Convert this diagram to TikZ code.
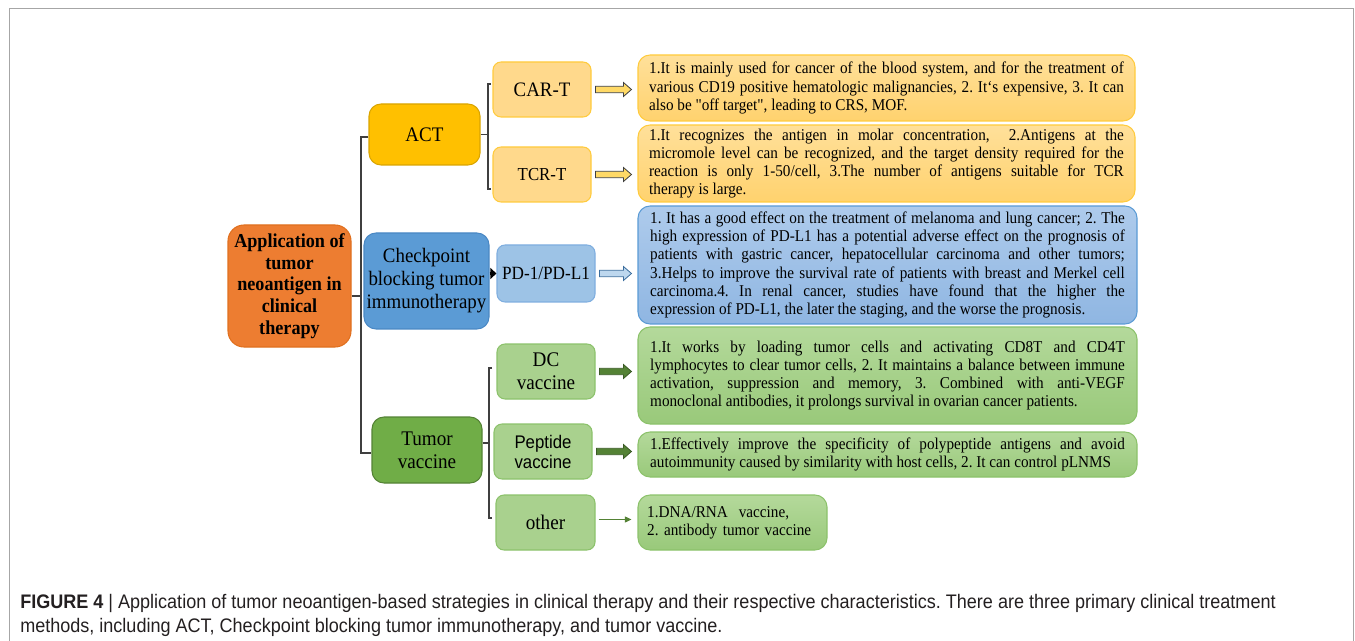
\documentclass[tikz,border=0pt]{standalone}
\usepackage{fontspec}
\setmainfont{Liberation Serif}[FakeStretch=0.92]
\setsansfont{Liberation Sans}[FakeStretch=0.92]
\newfontfamily\plainqfont{Liberation Serif}[FakeStretch=0.92]
\usetikzlibrary{arrows.meta,calc}
\frenchspacing

\definecolor{rootorange}{HTML}{ED7D31}
\definecolor{rootline}{HTML}{E0701F}
\definecolor{actgold}{HTML}{FFC000}
\definecolor{actline}{HTML}{D9A400}
\definecolor{subgold}{HTML}{FFD98C}
\definecolor{subgoldline}{HTML}{FFCB3D}
\definecolor{descgoldtop}{HTML}{FFE09A}
\definecolor{descgoldbot}{HTML}{FFD26E}
\definecolor{chkblue}{HTML}{5B9BD5}
\definecolor{chkline}{HTML}{4A88C4}
\definecolor{subblue}{HTML}{9DC3E6}
\definecolor{subblueline}{HTML}{7FAEDF}
\definecolor{descbluetop}{HTML}{AECBEC}
\definecolor{descbluebot}{HTML}{8FB6E2}
\definecolor{tvgreen}{HTML}{70AD47}
\definecolor{tvline}{HTML}{548235}
\definecolor{subgreen}{HTML}{A9D18E}
\definecolor{subgreenline}{HTML}{8CC26B}
\definecolor{descgreentop}{HTML}{B4D99B}
\definecolor{descgreenbot}{HTML}{99C97A}
\definecolor{arrowyellow}{HTML}{FFD966}
\definecolor{arrowblue}{HTML}{BDD7EE}
\definecolor{arrowgreen}{HTML}{548235}
\definecolor{framegray}{HTML}{A6A6A6}
\definecolor{bracegray}{HTML}{3F3F3F}
\definecolor{capgray}{HTML}{231F20}

\tikzset{
  box/.style={rectangle, draw, line width=0.8pt, align=center, inner sep=0pt},
  rootbox/.style={box, fill=rootorange, draw=rootline, rounded corners=12pt,
                  minimum width=92.25pt, minimum height=91.5pt,
                  font=\bfseries\fontsize{14.8}{16.3}\selectfont},
  mainbox/.style={box, rounded corners=9pt, font=\fontsize{15.4}{17.25}\selectfont},
  subbox/.style={box, rounded corners=6pt, minimum width=73.5pt, minimum height=41.25pt,
                 font=\fontsize{15.4}{17}\selectfont},
  goldsub/.style={subbox, fill=subgold, draw=subgoldline},
  bluesub/.style={subbox, fill=subblue, draw=subblueline},
  greensub/.style={subbox, fill=subgreen, draw=subgreenline},
  descbox/.style={rectangle, draw, line width=0.8pt, rounded corners=9pt, inner sep=0pt,
                  text width=356pt, align=justify, minimum width=372.75pt,
                  font=\fontsize{12.4}{13.7}\selectfont},
  golddesc/.style={descbox, top color=descgoldtop, bottom color=descgoldbot, draw=subgoldline},
  bluedesc/.style={descbox, top color=descbluetop, bottom color=descbluebot, draw=chkblue},
  greendesc/.style={descbox, top color=descgreentop, bottom color=descgreenbot, draw=subgreenline},
  brace/.style={draw=bracegray, line width=1pt},
  yarrow/.style={fill=arrowyellow, draw=bracegray, line width=0.6pt},
  barrow/.style={fill=arrowblue, draw=chkline!80!black, line width=0.6pt},
  garrow/.style={fill=arrowgreen, draw=tvline!70!black, line width=0.6pt},
  caption/.style={anchor=base west, inner sep=0pt, text=capgray,
                  font=\sffamily\fontsize{14.7}{18}\selectfont},
}

% outlined block arrow from one node to the next
\newcommand{\fatarrow}[3]{%
  \path ($(#2.east)+(4,0)$) coordinate (fa-s)
        ($(#3.west |- #2.east)+(-6,0)$) coordinate (fa-e);
  \draw[#1] ($(fa-s)+(0,-3.2)$) -- ($(fa-e)+(-8,-3.2)$) -- ($(fa-e)+(-8,-7)$)
    -- (fa-e) -- ($(fa-e)+(-8,7)$) -- ($(fa-e)+(-8,3.2)$) -- ($(fa-s)+(0,3.2)$) -- cycle;}

\begin{document}
\begin{tikzpicture}[x=0.75pt, y=-0.75pt]
  \useasboundingbox (0,0) rectangle (1355,641);
  \draw[framegray, line width=1.1pt] (9.5,641) -- (9.5,8.5) -- (1353.5,8.5) -- (1353.5,641);

  % root and the three methods
  \node[rootbox] (root) at (289.5,286) {Application of\\tumor\\neoantigen in\\clinical\\therapy};
  \node[mainbox, fill=actgold, draw=actline, minimum width=83.25pt, minimum height=45.75pt,
        font=\fontsize{15.5}{17}\selectfont] (act) at (424.5,134.5) {ACT};
  \node[mainbox, fill=chkblue, draw=chkline, minimum width=93.75pt, minimum height=72pt]
        (chk) at (426.5,281) {Checkpoint\\blocking tumor\\immunotherapy};
  \node[mainbox, fill=tvgreen, draw=tvline, minimum width=82.5pt, minimum height=49.5pt,
        font=\fontsize{15.6}{17}\selectfont] (tv) at (427,450) {Tumor\\vaccine};

  % second level
  \node[goldsub] (cart) at (542,89.5) {CAR-T};
  \node[goldsub, font=\fontsize{13.7}{16}\selectfont] (tcrt) at (542,174.5) {TCR-T};
  \node[bluesub, minimum height=42.75pt, font=\fontsize{14}{16}\selectfont] (pd) at (546,273.5) {PD-1/PD-L1};
  \node[greensub, font=\fontsize{15.6}{17}\selectfont] (dc) at (546,371.5) {DC\\vaccine};
  \node[greensub, font=\sffamily\fontsize{13.7}{15}\selectfont] (pep) at (543,451.5) {Peptide\\vaccine};
  \node[greensub, minimum width=74.25pt, font=\fontsize{15.6}{17}\selectfont] (oth) at (545.5,522.5) {other};

  % characteristics
  \node[golddesc, minimum height=49.5pt] (cartd) at (886.5,88) {1.It is mainly used for cancer of the blood system, and for the treatment of\linebreak
    various CD19 positive hematologic malignancies, 2. It‘s expensive, 3. It can\linebreak
    also be {\plainqfont"}off target{\plainqfont"}, leading to CRS, MOF.};
  \node[golddesc, minimum height=57.75pt] (tcrtd) at (886.5,163.5) {1.It recognizes the antigen in molar concentration,\ \ 2.Antigens at the\linebreak
    micromole level can be recognized, and the target density required for the\linebreak
    reaction is only 1-50/cell, 3.The number of antigens suitable for TCR\linebreak
    therapy is large.};
  \node[bluedesc, minimum width=374.25pt, minimum height=88.5pt] (pdd) at (887.5,265) {1. It has a good effect on the treatment of melanoma and lung cancer; 2. The\linebreak
    high expression of PD-L1 has a potential adverse effect on the prognosis of\linebreak
    patients with gastric cancer, hepatocellular carcinoma and other tumors;\linebreak
    3.Helps to improve the survival rate of patients with breast and Merkel cell\linebreak
    carcinoma.4. In renal cancer, studies have found that the higher the\linebreak
    expression of PD-L1, the later the staging, and the worse the prognosis.};
  \node[greendesc, minimum width=374.25pt, minimum height=72.75pt] (dcd) at (887.5,375.5) {1.It works by loading tumor cells and activating CD8T and CD4T\linebreak
    lymphocytes to clear tumor cells, 2. It maintains a balance between immune\linebreak
    activation, suppression and memory, 3. Combined with anti-VEGF\linebreak
    monoclonal antibodies, it prolongs survival in ovarian cancer patients.};
  \node[greendesc, minimum width=374.25pt, minimum height=33.75pt] (pepd) at (887.5,454.5) {1.Effectively improve the specificity of polypeptide antigens and avoid\linebreak
    autoimmunity caused by similarity with host cells, 2. It can control pLNMS};
  \node[greendesc, text width=128pt, align=left, minimum width=141.75pt, minimum height=41.25pt]
        (othd) at (732.5,522.5) {1.DNA/RNA\ \ vaccine,\\2. antibody tumor vaccine};

  % brackets
  \coordinate (j1) at (361,137);
  \coordinate (j2) at (361,453);
  \draw[brace] (root.east |- 0,296) -- (j1 |- 0,296);
  \draw[brace] (act.west |- j1) -- (j1) -- (j2) -- (tv.west |- j2);
  \coordinate (a1) at (488,84);
  \coordinate (a2) at (488,189);
  \draw[brace] (act.east) -- (a1 |- act.east);
  \draw[brace] ($(a1)+(3,0)$) -- (a1) -- (a2) -- ($(a2)+(3,0)$);
  \coordinate (v1) at (489,368);
  \coordinate (v2) at (489,518);
  \draw[brace] (tv.east |- 0,443) -- (v1 |- 0,443);
  \draw[brace] ($(v1)+(3,0)$) -- (v1) -- (v2) -- ($(v2)+(3,0)$);

  % arrows
  \draw[line width=2.4pt, -{Triangle[length=4.5pt,width=8pt]}] (chk.east |- pd.west) -- (pd.west);
  \fatarrow{yarrow}{cart}{cartd}
  \fatarrow{yarrow}{tcrt}{tcrtd}
  \fatarrow{barrow}{pd}{pdd}
  \fatarrow{garrow}{dc}{dcd}
  \fatarrow{garrow}{pep}{pepd}
  \draw[arrowgreen, line width=1pt, -{Triangle[length=5pt,width=4.5pt]}]
        ($(oth.east)+(3,-3)$) -- ($(othd.west)+(-6,-3)$);

  % caption
  \node[caption] (cap1) at (20,608) {\textbf{FIGURE 4} | Application of tumor neoantigen-based strategies in clinical therapy and their respective characteristics. There are three primary clinical treatment};
  \node[caption] (cap2) at (20,632) {methods, including ACT, Checkpoint blocking tumor immunotherapy, and tumor vaccine.};
\end{tikzpicture}
\end{document}
